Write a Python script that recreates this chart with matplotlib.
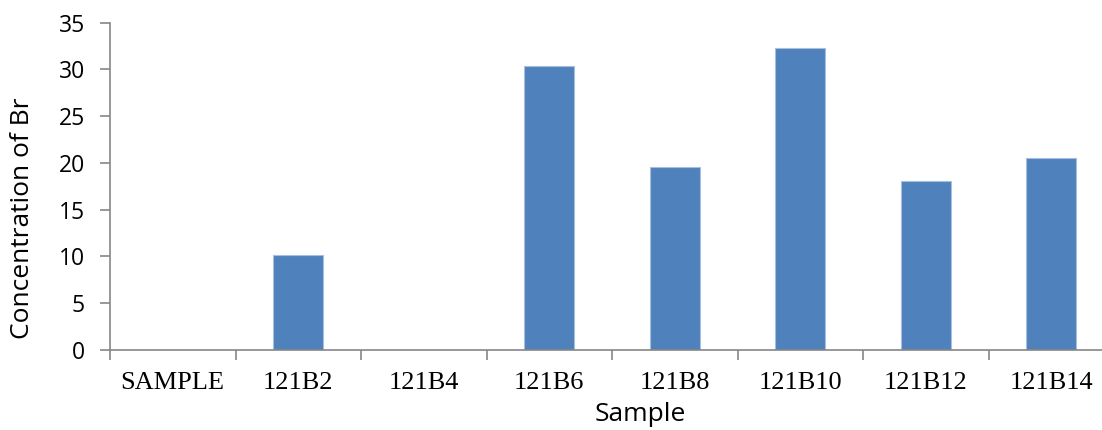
import matplotlib
matplotlib.use("Agg")
import matplotlib.pyplot as plt
import numpy as np

# Bromine concentration per sample
samples = ["SAMPLE", "121B2", "121B4", "121B6", "121B8", "121B10", "121B12", "121B14"]
br_conc = [0.0, 10.2, 0.0, 30.4, 19.6, 32.3, 18.1, 20.5]
y_ticks = [0, 5, 10, 15, 20, 25, 30, 35]

W, H = 1102, 430
fig = plt.figure(figsize=(W / 100, H / 100), dpi=100)
ax = fig.add_axes([110 / W, 1 - 350 / H, (1114 - 110) / W, (350 - 22.7) / H])

x = np.arange(len(samples))
ax.bar(x, br_conc, width=0.4, color="#4F81BD", edgecolor="#a7bfdf", linewidth=0.8, zorder=2)

ax.set_xlim(-0.5, len(samples) - 0.5)
ax.set_ylim(0, 35)

axis_grey = "#868686"
for side in ("top", "right"):
    ax.spines[side].set_visible(False)
for side in ("left", "bottom"):
    ax.spines[side].set_color(axis_grey)
    ax.spines[side].set_linewidth(1.2)

ax.set_yticks(y_ticks)
ax.set_yticklabels([str(v) for v in y_ticks], fontfamily="Open Sans", fontsize=16.5)
ax.tick_params(axis="y", direction="out", length=7, width=1.2, color=axis_grey, pad=11)

# category labels centred, tick marks on the boundaries
ax.set_xticks(x)
ax.set_xticklabels(samples, fontfamily="Liberation Serif", fontsize=19)
ax.tick_params(axis="x", which="major", length=0, pad=15.5)
ax.set_xticks(np.arange(len(samples) + 1) - 0.5, minor=True)
ax.tick_params(axis="x", which="minor", direction="out", length=7, width=1.2, color=axis_grey)

ax.set_xlabel("Sample", fontfamily="Open Sans", fontsize=19)
ax.set_ylabel("Concentration of Br", fontfamily="Open Sans", fontsize=19)
ax.xaxis.set_label_coords((640 - 110) / (1114 - 110), -(402 - 350) / (350 - 22.7))
ax.xaxis.label.set_verticalalignment("top")
ax.yaxis.set_label_coords(-(110 - 10) / (1114 - 110), (350 - 218) / (350 - 22.7))
ax.yaxis.label.set_horizontalalignment("center")
ax.yaxis.label.set_verticalalignment("top")

fig.savefig("out.png", dpi=100)
